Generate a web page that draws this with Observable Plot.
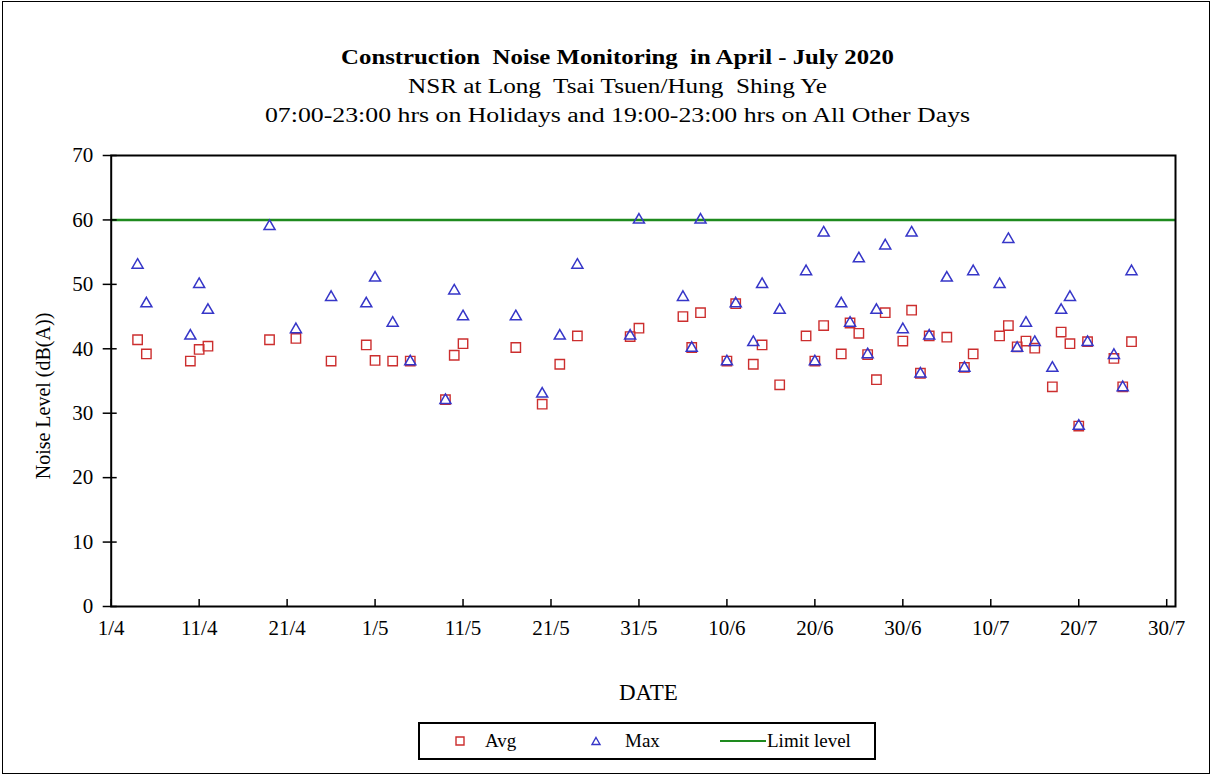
<!DOCTYPE html>
<html>
<head>
<meta charset="utf-8">
<script src="https://cdn.jsdelivr.net/npm/d3@7"></script>
<script src="https://cdn.jsdelivr.net/npm/@observablehq/plot@0.6"></script>
<style>
  html, body { margin: 0; padding: 0; background: #fff; }
  #page { position: relative; width: 1213px; height: 776px; overflow: hidden; font-family: "Liberation Serif", "Times New Roman", serif; color: #000; }
  #border { position: absolute; left: 2px; top: 1px; width: 1206px; height: 771px; border: 1px solid #000; }
  #header { position: absolute; left: 11px; top: 0; width: 1213px; padding-top: 43px; text-align: center; }
  #header div { height: 29px; line-height: 29px; white-space: pre; transform-origin: 50% 50%; }
  #t1 { font-size: 21px; font-weight: bold; transform: scaleX(1.18); }
  #t2 { font-size: 20px; transform: scaleX(1.26); }
  #t3 { font-size: 20px; transform: scaleX(1.29); }
  #plot { position: absolute; left: 0; top: 142px; }
  #legend { position: absolute; left: 418px; top: 722px; width: 454px; height: 34px; border: 2px solid #000; font-size: 19px; }
  #legend .item { position: absolute; top: 0; height: 34px; line-height: 34px; }
  #legend svg { position: absolute; }
</style>
</head>
<body>
<div id="page">
  <div id="border"></div>
  <div id="header">
    <div id="t1">Construction  Noise Monitoring  in April - July 2020</div>
    <div id="t2">NSR at Long  Tsai Tsuen/Hung  Shing Ye</div>
    <div id="t3">07:00-23:00 hrs on Holidays and 19:00-23:00 hrs on All Other Days</div>
  </div>
  <div id="plot"></div>
  <div id="legend"></div>
</div>
<script>
// ---- data ----
const dates = ["4/4","5/4","10/4","11/4","12/4","19/4","22/4","26/4","30/4","1/5",
  "3/5","5/5","9/5","10/5","11/5","17/5","20/5","22/5","24/5","30/5",
  "31/5","5/6","6/6","7/6","10/6","11/6","13/6","14/6","16/6","19/6",
  "20/6","21/6","23/6","24/6","25/6","26/6","27/6","28/6","30/6","1/7",
  "2/7","3/7","5/7","7/7","8/7","11/7","12/7","13/7","14/7","15/7",
  "17/7","18/7","19/7","20/7","21/7","24/7","25/7","26/7"];
const avgValues = [41.4,39.2,38.1,39.9,40.4,41.4,41.6,38.1,40.6,38.2,
  38.1,38.1,32.1,39.0,40.8,40.2,31.4,37.6,42.0,41.9,
  43.2,45.0,40.2,45.6,38.1,47.0,37.6,40.6,34.4,42.0,
  38.1,43.6,39.2,44.0,42.4,39.1,35.2,45.6,41.2,46.0,
  36.2,42.0,41.8,37.1,39.2,42.0,43.6,40.3,41.2,40.1,
  34.1,42.6,40.8,28.0,41.1,38.5,34.1,41.1];
const maxValues = [53,47,42,50,46,59,43,48,47,51,
  44,38,32,49,45,45,33,42,53,42,
  60,48,40.1,60,38,47,41,50,46,52,
  38,58,47,44,54,39.1,46,56,43,58,
  36.1,42,51,37,52,50,57,40.1,44,41,
  37,46,48,28,41,39,34,52];
const limitLevel = 60;
const xTickLabels = ["1/4","11/4","21/4","1/5","11/5","21/5","31/5","10/6","20/6","30/6","10/7","20/7","30/7"];
const yTicks = [0,10,20,30,40,50,60,70];
const xDomainLabels = ["1/4","31/7"];
const year = 2020;

// ---- build ----
const parseDM = s => { const [d, m] = s.split("/").map(Number); return new Date(Date.UTC(year, m - 1, d)); };
const rows = dates.map((s, i) => ({date: parseDM(s), avg: avgValues[i], max: maxValues[i]}));
const xTicks = xTickLabels.map(parseDM);
const fmt = d => `${d.getUTCDate()}/${d.getUTCMonth() + 1}`;

const W = 1213, H = 568;
const mL = 110.7, mR = 38, mT = 13, mB = 104;
const pW = W - mL - mR, pH = H - mT - mB;

const avgColor = "#cc2e2e", maxColor = "#3636c8", limitColor = "#1e8a1e";

const chart = Plot.plot({
  width: W, height: H,
  marginLeft: mL, marginRight: mR, marginTop: mT, marginBottom: mB,
  style: {fontFamily: "Liberation Serif, Times New Roman, serif", color: "#000", background: "transparent"},
  x: {type: "utc", domain: xDomainLabels.map(parseDM)},
  y: {domain: [0, 70]},
  marks: [
    Plot.ruleY([limitLevel], {stroke: limitColor, strokeWidth: 2.5}),
    Plot.frame({stroke: "#000", strokeWidth: 2}),
    Plot.tickY(yTicks, {y: d => d, stroke: "#000", strokeWidth: 1.5, insetLeft: -8, insetRight: pW - 6}),
    Plot.tickX(xTicks, {x: d => d, stroke: "#000", strokeWidth: 1.5, insetTop: pH - 7}),
    Plot.axisY(yTicks, {tickSize: 0, tickPadding: 18, fontSize: 21, label: null}),
    Plot.axisX(xTicks, {tickSize: 0, tickPadding: 14, fontSize: 21, tickFormat: fmt, label: null}),
    Plot.dot(rows, {x: "date", y: "avg", symbol: "square", r: 5.3, stroke: avgColor, strokeWidth: 1.4, fill: "none"}),
    Plot.dot(rows, {x: "date", y: "max", symbol: "triangle", r: 4.1, stroke: maxColor, strokeWidth: 1.5, fill: "none"}),
    Plot.text(["DATE"], {frameAnchor: "bottom", dy: 86, dx: 5, fontSize: 23, lineAnchor: "middle", textAnchor: "middle"}),
    Plot.text(["Noise Level (dB(A))"], {frameAnchor: "left", dx: -68, dy: 15, rotate: -90, fontSize: 20, lineAnchor: "middle", textAnchor: "middle"})
  ]
});
document.getElementById("plot").appendChild(chart);

// ---- legend ----
const legend = document.getElementById("legend");
const legendItems = [
  {label: "Avg", kind: "square", color: avgColor, symX: 40, textX: 65},
  {label: "Max", kind: "triangle", color: maxColor, symX: 176, textX: 205},
  {label: "Limit level", kind: "line", color: limitColor, symX: 300, textX: 347}
];
for (const it of legendItems) {
  const ns = "http://www.w3.org/2000/svg";
  const s = document.createElementNS(ns, "svg");
  if (it.kind === "line") {
    s.setAttribute("width", 48); s.setAttribute("height", 10);
    s.style.left = it.symX + "px"; s.style.top = "12px";
    const l = document.createElementNS(ns, "line");
    l.setAttribute("x1", 0); l.setAttribute("x2", 46); l.setAttribute("y1", 5); l.setAttribute("y2", 5);
    l.setAttribute("stroke", it.color); l.setAttribute("stroke-width", 2.2);
    s.appendChild(l);
  } else {
    s.setAttribute("width", 14); s.setAttribute("height", 14);
    s.style.left = (it.symX - 7) + "px"; s.style.top = "10px";
    const p = document.createElementNS(ns, "path");
    p.setAttribute("d", it.kind === "square" ? "M3,3h8v8h-8z" : "M7,3.5L11,10.5H3z");
    p.setAttribute("fill", "none"); p.setAttribute("stroke", it.color); p.setAttribute("stroke-width", 1.4);
    s.appendChild(p);
  }
  legend.appendChild(s);
  const t = document.createElement("div");
  t.className = "item"; t.style.left = it.textX + "px"; t.textContent = it.label;
  legend.appendChild(t);
}
</script>
</body>
</html>
